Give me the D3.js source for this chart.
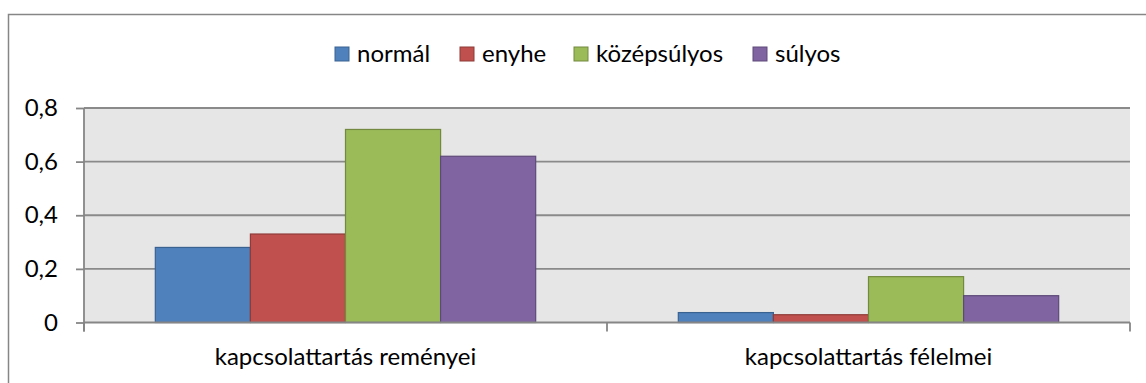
<!DOCTYPE html>
<html>
<head>
<meta charset="utf-8">
<script src="https://cdn.jsdelivr.net/npm/d3@7"></script>
<style>
  html, body { margin: 0; padding: 0; background: #fff; }
  svg { display: block; }
  text { font-family: Lato, "Open Sans", sans-serif; fill: #000; }
</style>
</head>
<body>
<svg id="chart" width="1146" height="383"></svg>
<script>
// Categories and series
const categories = ["kapcsolattartás reményei", "kapcsolattartás félelmei"];
const seriesNames = ["normál", "enyhe", "középsúlyos", "súlyos"];
const normal = [0.28, 0.037];
const enyhe = [0.33, 0.029];
const kozepsulyos = [0.72, 0.171];
const sulyos = [0.62, 0.10];
const yTicks = [0, 0.2, 0.4, 0.6, 0.8];
const yTickLabels = ["0", "0,2", "0,4", "0,6", "0,8"];

const seriesValues = [normal, enyhe, kozepsulyos, sulyos];
const fills = ["#4F81BD", "#C0504D", "#9BBB59", "#8064A2"];
const strokes = ["#3A6291", "#8E3B39", "#73893F", "#5E4A78"];

const FONT_SIZE = "24px";
const svg = d3.select("#chart");
const plot = { left: 84, right: 1130, top: 108, bottom: 322.5 };

// Outer chart frame (left and top edges visible)
svg.append("path")
  .attr("d", "M8.5,383 L8.5,14.5 L1146,14.5")
  .attr("fill", "none")
  .attr("stroke", "#868686")
  .attr("stroke-width", 1.5);

const y = d3.scaleLinear().domain([0, 0.8]).range([plot.bottom, plot.top]);
const x0 = d3.scaleBand().domain(categories).range([plot.left, plot.right]).padding(0);
const x1 = d3.scaleBand().domain(seriesNames).range([0, x0.bandwidth()])
  .paddingInner(0).paddingOuter(0.75);

// Plot area background
svg.append("rect")
  .attr("x", plot.left).attr("y", plot.top)
  .attr("width", plot.right - plot.left).attr("height", plot.bottom - plot.top)
  .attr("fill", "#E6E6E6");

// Horizontal gridlines
svg.append("g").selectAll("line")
  .data(yTicks.filter(d => d > 0))
  .join("line")
  .attr("x1", plot.left).attr("x2", plot.right)
  .attr("y1", d => y(d)).attr("y2", d => y(d))
  .attr("stroke", "#8A8A8A").attr("stroke-width", 1.8);

// Bars
const groups = svg.append("g").selectAll("g")
  .data(categories)
  .join("g")
  .attr("transform", d => `translate(${x0(d)},0)`);

groups.selectAll("rect")
  .data((c, ci) => seriesNames.map((s, si) => ({ s, si, v: seriesValues[si][ci] })))
  .join("rect")
  .attr("x", d => x1(d.s))
  .attr("y", d => y(d.v))
  .attr("width", x1.bandwidth())
  .attr("height", d => y(0) - y(d.v))
  .attr("fill", d => fills[d.si])
  .attr("stroke", d => strokes[d.si])
  .attr("stroke-width", 1.2);

// Y axis
const yAxis = d3.axisLeft(y)
  .tickValues(yTicks)
  .tickFormat((d, i) => yTickLabels[i])
  .tickSize(8)
  .tickPadding(18);
const gy = svg.append("g").attr("transform", `translate(${plot.left},0)`).call(yAxis);
gy.select(".domain").attr("stroke", "#868686").attr("stroke-width", 1.8)
  .attr("d", `M0,${plot.top}V${plot.bottom + 9}`);
gy.selectAll(".tick line").attr("stroke", "#868686").attr("stroke-width", 1.8);
gy.selectAll(".tick text").style("font-size", FONT_SIZE).attr("fill", "#000")
  .style("font-family", "Lato, 'Open Sans', sans-serif");

// X axis: baseline with boundary ticks, category labels centred in bands
svg.append("line")
  .attr("x1", plot.left).attr("x2", plot.right)
  .attr("y1", y(0)).attr("y2", y(0))
  .attr("stroke", "#868686").attr("stroke-width", 2);
const boundaries = [x0(categories[0]), x0(categories[1]), x0(categories[1]) + x0.bandwidth()];
svg.append("g").selectAll("line")
  .data(boundaries)
  .join("line")
  .attr("x1", d => d).attr("x2", d => d)
  .attr("y1", y(0)).attr("y2", y(0) + 9)
  .attr("stroke", "#868686").attr("stroke-width", 1.8);
svg.append("g").selectAll("text")
  .data(categories)
  .join("text")
  .attr("x", d => x0(d) + x0.bandwidth() / 2)
  .attr("y", 365)
  .attr("text-anchor", "middle")
  .style("font-size", FONT_SIZE)
  .text(d => d);

// Legend
const legendX = [335, 460, 574, 753];
const legend = svg.append("g").selectAll("g")
  .data(seriesNames)
  .join("g")
  .attr("transform", (d, i) => `translate(${legendX[i]},47)`);
legend.append("rect")
  .attr("width", 14).attr("height", 14)
  .attr("fill", (d, i) => fills[i])
  .attr("stroke", (d, i) => strokes[i])
  .attr("stroke-width", 1);
legend.append("text")
  .attr("x", 22).attr("y", 15)
  .style("font-size", FONT_SIZE)
  .text(d => d);
</script>
</body>
</html>
